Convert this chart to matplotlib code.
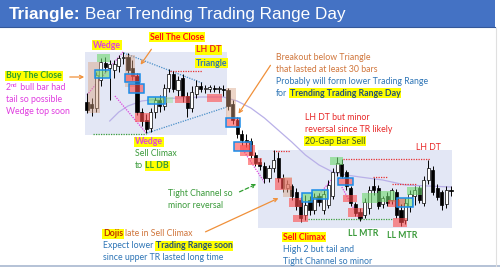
import matplotlib
matplotlib.use('Agg')
import matplotlib.pyplot as plt
from matplotlib.patches import Rectangle, FancyArrowPatch

# ---------------- data (price units) ----------------
opens = [168,166,162,190,207,202,200,204,212,213,
         202,194,158,150,142,158,170,164,182,196,
         180,192,174,162,176,184,181,181,182,181,
         181,180,166,150,136,130,129,115,108,104,
         92,102,112,92,82,84,78,70,55,70,
         60,74,60,65,74,98,106,98,82,66,
         58,55,62,84,82,66,74,70,78,60,
         50,64,74,82,67,90,100,82,78,66,
         80]
highs = [177,172,198,212,213,210,210,215,218,217,
         210,197,162,156,162,173,175,186,201,199,
         194,196,178,184,190,188,185,185,185,184,
         185,182,170,153,140,136,132,118,112,108,
         105,120,118,96,90,86,82,73,75,74,
         77,77,80,90,102,113,111,100,84,68,
         62,72,84,92,85,74,78,82,81,66,
         72,80,84,84,94,110,104,86,80,84,
         84]
lows = [157,154,158,184,198,170,192,198,206,197,
        190,155,144,137,138,152,158,160,178,178,
        174,168,153,158,172,178,177,178,178,177,
        174,160,146,132,125,123,112,104,100,87,
        88,98,88,78,78,70,60,48,50,55,
        56,64,56,62,71,94,92,80,64,54,
        49,52,56,75,61,62,64,66,52,44,
        46,58,65,67,64,86,75,70,60,62,
        74]
closes = [160,162,195,208,203,206,206,212,213,200,
          194,158,149,141,158,170,164,182,196,181,
          190,174,162,178,184,181,182,183,181,182,
          180,164,150,136,130,128,115,107,104,92,
          102,110,92,82,86,74,64,52,65,60,
          73,68,76,85,98,107,94,84,67,57,
          52,68,80,80,64,72,67,80,55,48,
          67,76,80,70,90,102,78,73,65,80,
          79]

ema_bars = [5, 7, 9, 12, 16, 20, 25, 30, 33, 36, 39, 42, 45, 48, 51, 54, 57, 60, 65, 70, 75, 80]
ema_vals = [149, 158, 164, 169, 171, 172, 173, 173, 169, 162, 152, 140, 128, 115, 105, 98, 95, 93, 90, 85, 84, 83]

# trading-range zones: (bar_start, bar_end, price_low, price_high)
range_zones = [(-0.45, 30.8, 135, 218), (37.6, 80.2, 42, 120)]

# highlight boxes: (kind, bar_start, bar_end, price_low, price_high)
boxes = [
    ('tan', 0.2, 2.9, 157, 208), ('green', 2.2, 5.0, 208, 216), ('bgreen', 1.8, 5.0, 192, 200),
    ('tan', 8.4, 10.5, 183, 215), ('bred', 8.4, 11.6, 188, 196), ('bred', 9.2, 12.5, 177, 186),
    ('red', 10.5, 13.8, 148, 157), ('bgreen', 13.4, 17.1, 166, 173), ('lgreen', 17.1, 18.9, 167, 173),
    ('red', 19.3, 22.6, 167, 174), ('red', 26.4, 29.7, 168, 176),
    ('tan', 30.5, 32.7, 152, 182), ('bred', 30.5, 33.6, 143, 152), ('bred', 32.3, 36.0, 119, 128),
    ('red', 33.6, 36.9, 114, 125), ('red', 35.4, 38.5, 105, 112),
    ('red', 41.3, 45.0, 80, 92), ('tan', 43.1, 45.0, 73, 93), ('red', 44.4, 47.3, 63, 72),
    ('red', 45.3, 48.6, 48, 55), ('bgreen', 47.2, 49.4, 68, 77), ('bgreen', 49.4, 53.0, 71, 80),
    ('green', 53.4, 56.3, 105, 113), ('bred', 55.2, 58.5, 85, 92), ('red', 56.3, 59.3, 68, 75),
    ('red', 57.4, 60.7, 53, 62), ('green', 60.4, 64.0, 67, 77), ('green', 64.0, 67.7, 68, 79),
    ('red', 66.2, 68.8, 63, 70), ('bmixed', 68.1, 71.7, 63, 72), ('red', 67.3, 70.3, 43, 52),
    ('green', 70.3, 73.6, 75, 83),
]

# dotted guide lines: (color, bar0, price0, bar1, price1)
guides = [
    ('#E040E0', 0.0, 175, 7.9, 218), ('#E040E0', 6.15, 174, 13.0, 137),
    ('#4A8FC8', 8.1, 217, 25.3, 187), ('#4A8FC8', 13.2, 137, 32.1, 165),
    ('#E83030', 18.2, 199, 25.3, 199), ('#3CA03C', 1.3, 136, 13.0, 136),
    ('#E040E0', 34.3, 120, 39.1, 87), ('#E040E0', 50.3, 72, 54.1, 92),
    ('#E040E0', 56.0, 83, 60.0, 50),
    ('#E83030', 40.9, 119, 44.6, 119), ('#E83030', 56.3, 111, 75.4, 111),
    ('#E83030', 62.9, 93, 65.9, 93), ('#E83030', 67.0, 86, 72.5, 86),
    ('#3CA03C', 48.6, 51, 67.3, 51),
]

# ---------------- figure ----------------
W, H = 500, 269
fig = plt.figure(figsize=(5, 2.69), dpi=100)
fig.patch.set_facecolor('white')
ax = fig.add_axes([0, 0, 1, 1])
ax.set_xlim(-87 / 4.55, 413 / 4.55)
ax.set_ylim(1, 270)
ax.axis('off')

for b0, b1, p0, p1 in range_zones:
    ax.add_patch(Rectangle((b0, p0), b1 - b0, p1 - p0, facecolor='#E3E7F5', edgecolor='none', zorder=0))

ax.plot(ema_bars, ema_vals, color='#B9B0E8', lw=0.9, zorder=1)

n = len(opens)
for i in range(n):
    o, h, l, c = opens[i], highs[i], lows[i], closes[i]
    ax.vlines(i, l, h, color='black', lw=0.7, zorder=3)
    bot = min(o, c)
    ht = max(abs(c - o), 0.8)
    if c >= o:
        ax.bar(i, ht, bottom=bot, width=0.7, facecolor='white', edgecolor='black', lw=0.5, zorder=4)
    else:
        ax.bar(i, ht, bottom=bot, width=0.7, facecolor='black', edgecolor='black', lw=0.5, zorder=4)

fills = {'red': ('#FF4A4A', 0.6), 'green': ('#6FD86F', 0.6), 'lgreen': ('#9AE39A', 0.5),
         'tan': ('#D9A383', 0.45)}
for kind, b0, b1, p0, p1 in boxes:
    if kind in fills:
        fc, a = fills[kind]
        ax.add_patch(Rectangle((b0, p0), b1 - b0, p1 - p0, facecolor=fc, alpha=a, edgecolor='none', zorder=5))
    else:
        if kind == 'bmixed':
            mid = (b0 + b1) / 2
            ax.add_patch(Rectangle((b0, p0), mid - b0, p1 - p0, facecolor='#D0603A', alpha=0.6, edgecolor='none', zorder=5))
            ax.add_patch(Rectangle((mid, p0), b1 - mid, p1 - p0, facecolor='#6FD86F', alpha=0.6, edgecolor='none', zorder=5))
        else:
            fc = '#FF4A4A' if kind == 'bred' else '#6FD86F'
            ax.add_patch(Rectangle((b0, p0), b1 - b0, p1 - p0, facecolor=fc, alpha=0.6, edgecolor='none', zorder=5))
        ax.add_patch(Rectangle((b0, p0), b1 - b0, p1 - p0, facecolor='none', edgecolor='#1A8CE8', lw=1.1, zorder=6))

for col, x0, y0, x1, y1 in guides:
    ax.plot([x0, x1], [y0, y1], color=col, lw=0.9, ls=(0, (1, 1)), zorder=2)

# ---------------- overlay (layout in pixel units) ----------------
ov = fig.add_axes([0, 0, 1, 1])
ov.set_xlim(0, W)
ov.set_ylim(H, 0)
ov.axis('off')
ov.patch.set_alpha(0)

ov.add_patch(Rectangle((0, 0), 495, 27, facecolor='#4472C4', edgecolor='none'))
ov.plot([0, 495], [27.3, 27.3], color='#34589A', lw=0.8)
ov.plot([0, 500], [266, 266], color='#A8B8D0', lw=1.2)
ov.plot([495.5, 495.5], [28, 266], color='#E0E0E0', lw=0.8)

fig.canvas.draw()
renderer = fig.canvas.get_renderer()
inv = ov.transData.inverted()

FONT = ['Lato', 'DejaVu Sans']
FS = 6.3


def rich(x, y, parts, fs=FS, family=FONT):
    cx = x
    for part in parts:
        txt = part[0]
        color = part[1]
        weight = part[2] if len(part) > 2 else 'normal'
        bg = part[3] if len(part) > 3 else None
        dy = part[4] if len(part) > 4 else 0
        pfs = part[5] if len(part) > 5 else fs
        trail = txt.endswith(' ')
        s = txt.rstrip(' ')
        kw = {}
        if bg:
            kw['bbox'] = dict(facecolor=bg, edgecolor='none', pad=0.6)
        t = ov.text(cx, y + dy, s, color=color, fontsize=pfs, fontweight=weight,
                    family=family, ha='left', va='center', **kw)
        bb = t.get_window_extent(renderer)
        cx = inv.transform((bb.x1, bb.y0))[0]
        if trail:
            cx += 0.27 * fs * 100 / 72


rich(9, 14.5, [("Triangle:", 'white', 'bold'), (" ", 'white'), ("Bear Trending Trading Range Day", 'white')],
     fs=12.3, family=['Liberation Sans', 'DejaVu Sans'])

MAG = '#E03CE0'
GRN = '#3A9A3A'
RED = '#E82828'
BLU = '#2E75B6'
BRN = '#D0763C'
DBL = '#1F4E79'
YEL = '#FFFF00'

rich(93, 45, [("Wedge", MAG, 'bold', YEL)])
rich(150, 37, [("Sell The Close", '#FF1010', 'bold', YEL)])
rich(196, 50, [("LH DT", RED, 'bold', YEL)])
rich(196, 63, [("Triangle", BLU, 'bold', YEL)])

rich(6, 76, [("Buy The Close", '#2E9E2E', 'bold', YEL)])
rich(6, 88, [("2", MAG), ("nd", MAG, 'normal', None, -2.2, 4.2), (" bull bar had", MAG)])
rich(6, 100, [("tail so possible", MAG)])
rich(6, 112, [("Wedge top soon", MAG)])

rich(276, 57, [("Breakout below Triangle", BRN)])
rich(276, 69, [("that lasted at least 30 bars", BRN)])
rich(276, 81, [("Probably will form lower Trading Range", BLU)])
rich(276, 93, [("for ", BLU), ("Trending Trading Range Day", DBL, 'bold', YEL)])

rich(305, 118, [("LH DT but minor", RED)])
rich(305, 130, [("reversal since TR likely", RED)])
rich(305, 141, [("20-Gap Bar Sell", '#3D5A2A', 'normal', YEL)])
rich(416, 147, [("LH DT", RED)])

rich(135, 142, [("Wedge", MAG, 'bold', YEL)])
rich(135, 154, [("Sell Climax", GRN)])
rich(135, 166, [("to ", GRN), ("LL DB", GRN, 'bold', YEL)])

rich(168, 193, [("Tight Channel so", GRN)])
rich(168, 205, [("minor reversal", GRN)])

rich(103, 234, [("Dojis", '#C03000', 'bold', YEL), (" ", BRN), ("late in Sell Climax", BRN)])
rich(103, 246, [("Expect lower ", BLU), ("Trading Range soon", DBL, 'bold', YEL)])
rich(103, 258, [("since upper TR lasted long time", BLU)])

rich(283, 237, [("Sell Climax", '#FF1010', 'bold', YEL)])
rich(283, 250, [("High 2 but tail and", BLU)])
rich(283, 261, [("Tight Channel so minor", BLU)])

rich(348, 234, [("LL MTR", GRN, 'bold')])
rich(387, 236, [("LL MTR", GRN, 'bold')])

ORG = '#F0903A'
for (x0, y0), (x1, y1) in [((67, 77), (87, 77)), ((153, 47), (139, 67)),
                           ((272, 63), (237, 116)), ((203, 233), (281, 197))]:
    ov.add_patch(FancyArrowPatch((x0, y0), (x1, y1), arrowstyle='->', mutation_scale=6,
                                 color=ORG, lw=0.9))
ov.add_patch(FancyArrowPatch((237, 193), (259, 183), arrowstyle='->', mutation_scale=6,
                             color='#2E9E2E', lw=0.9, ls=(0, (3, 2))))

fig.savefig('out.png', dpi=100)
